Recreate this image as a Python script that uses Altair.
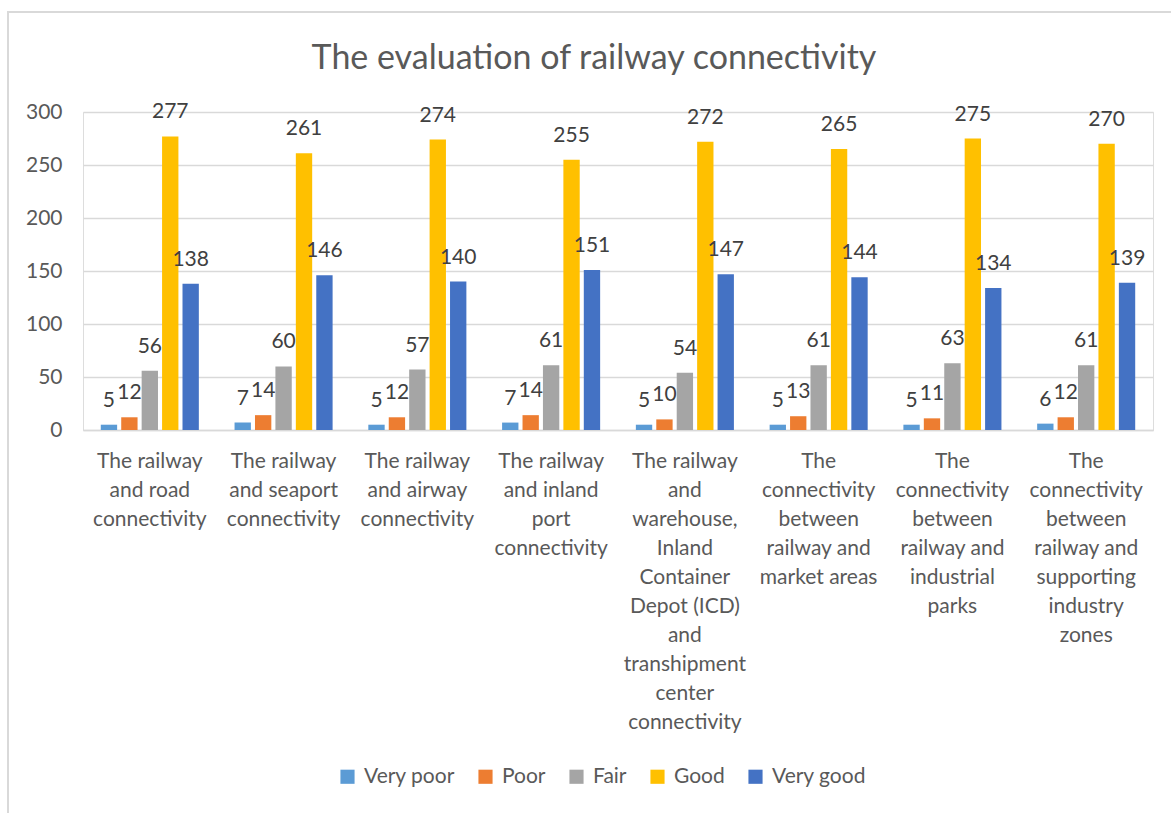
import altair as alt
import pandas as pd

categories = [
    "The railway|and road|connectivity",
    "The railway|and seaport|connectivity",
    "The railway|and airway|connectivity",
    "The railway|and inland|port|connectivity",
    "The railway|and|warehouse,|Inland|Container|Depot (ICD)|and|transhipment|center|connectivity",
    "The|connectivity|between|railway and|market areas",
    "The|connectivity|between|railway and|industrial|parks",
    "The|connectivity|between|railway and|supporting|industry|zones",
]
series = ["Very poor", "Poor", "Fair", "Good", "Very good"]
very_poor = [5, 7, 5, 7, 5, 5, 5, 6]
poor = [12, 14, 12, 14, 10, 13, 11, 12]
fair = [56, 60, 57, 61, 54, 61, 63, 61]
good = [277, 261, 274, 255, 272, 265, 275, 270]
very_good = [138, 146, 140, 151, 147, 144, 134, 139]
colors = ["#5B9BD5", "#ED7D31", "#A5A5A5", "#FFC000", "#4472C4"]

rows = []
for s, vals in zip(series, [very_poor, poor, fair, good, very_good]):
    for c, v in zip(categories, vals):
        rows.append({"category": c, "series": s, "value": v})
df = pd.DataFrame(rows)

FONT = "Lato"
FS = 21
TXT = "#595959"

x = alt.X("category:N", sort=categories, title=None,
          scale=alt.Scale(paddingInner=0.267, paddingOuter=0.133),
          axis=alt.Axis(labelAngle=0, labelExpr="split(datum.label, '|')",
                        labelLineHeight=29, labelFontSize=FS, labelColor=TXT,
                        labelPadding=20, ticks=False, domainColor="#d9d9d9",
                        domainWidth=1.5,
                        labelFont=FONT, labelBaseline="top", labelLimit=220))
xo = alt.XOffset("series:N", sort=series, scale=alt.Scale(paddingInner=0.2))
y = alt.Y("value:Q", title=None,
          scale=alt.Scale(domain=[0, 300]),
          axis=alt.Axis(values=[0, 50, 100, 150, 200, 250, 300], labelFontSize=FS,
                        labelColor=TXT, domain=False, ticks=False,
                        gridColor="#d9d9d9", gridWidth=1.3, labelPadding=21,
                        labelFont=FONT))
color = alt.Color("series:N", sort=series,
                  scale=alt.Scale(domain=series, range=colors),
                  legend=alt.Legend(orient="none", legendX=254, legendY=654,
                                    direction="horizontal", title=None,
                                    symbolType="square", symbolSize=200,
                                    symbolStrokeWidth=0, labelFontSize=FS,
                                    labelColor=TXT, labelFont=FONT,
                                    columnPadding=20, labelOffset=6))

base = alt.Chart(df)
bars = base.mark_bar().encode(x=x, xOffset=xo, y=y, color=color)
labels = base.mark_text(dy=-24, baseline="middle", fontSize=FS, color="#404040",
                        font=FONT).encode(x=x, xOffset=xo, y=y, text="value:Q")

frame_df = pd.DataFrame({"k": [0]})
left_line = alt.Chart(frame_df).mark_rule(color="#d9d9d9", strokeWidth=2).encode(
    x=alt.value(-75), y=alt.value(-100), y2=alt.value(705))
top_line = alt.Chart(frame_df).mark_rule(color="#d9d9d9", strokeWidth=2).encode(
    x=alt.value(-76), x2=alt.value(1090), y=alt.value(-100))

chart = (left_line + top_line + bars + labels).properties(
    width=1070, height=318,
    title=alt.TitleParams("The evaluation of railway connectivity", fontSize=34,
                          color=TXT, font=FONT, fontWeight="normal",
                          offset=-65, dx=-24),
    padding={"left": 83, "top": 112, "right": 18, "bottom": 383},
    autosize=alt.AutoSizeParams(type="none"),
).configure_view(stroke=None).configure(background="white")

chart.save("out.html", embed_options={"renderer": "svg", "actions": False})
